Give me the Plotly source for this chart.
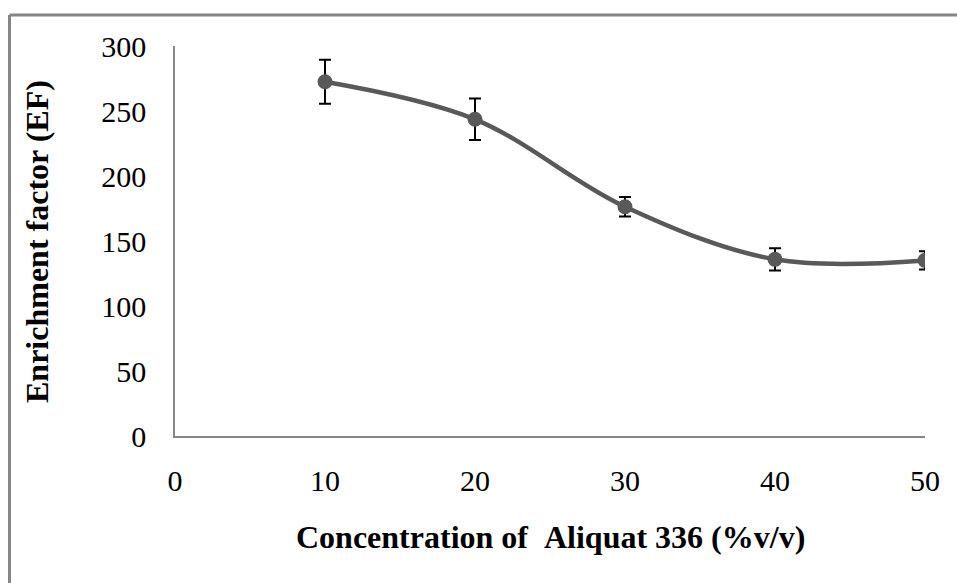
import plotly.graph_objects as go

# Aliquat 336 concentration (%v/v) vs. enrichment factor
concentration = [10, 20, 30, 40, 50]
enrichment = [272.5, 243.6, 176.4, 135.9, 135.1]
error = [17, 16, 7.5, 8.5, 7]

x_ticks = [0, 10, 20, 30, 40, 50]
y_ticks = [0, 50, 100, 150, 200, 250, 300]

FONT = "Liberation Serif"
GREY = "#595959"
AXIS = "#868686"

W, H = 957, 583
ML, MR, MT, MB = 175, 32, 46, 147
PW, PH = W - ML - MR, H - MT - MB


def px_x(p):
    return (p - ML) / PW


def px_y(p):
    return (H - MB - p) / PH


fig = go.Figure()
fig.add_trace(go.Scatter(
    x=concentration,
    y=enrichment,
    mode="lines+markers",
    line=dict(color=GREY, width=4.5, shape="spline", smoothing=1.0),
    marker=dict(color=GREY, size=15, symbol="circle"),
    error_y=dict(type="data", array=error, visible=True,
                 color="black", thickness=2, width=6),
    showlegend=False,
))

fig.update_layout(
    width=W, height=H,
    margin=dict(l=ML, r=MR, t=MT, b=MB, pad=0),
    paper_bgcolor="white",
    plot_bgcolor="white",
    font=dict(family=FONT, size=30, color="black"),
    xaxis=dict(
        range=[0, 50], tickvals=x_ticks, ticktext=[str(v) for v in x_ticks],
        showgrid=False, zeroline=False, showline=True,
        linecolor=AXIS, linewidth=1.5, ticks="", ticklabelstandoff=17,
        tickfont=dict(family=FONT, size=30, color="black"),
    ),
    yaxis=dict(
        range=[0, 300], tickvals=y_ticks, ticktext=[str(v) for v in y_ticks],
        showgrid=False, zeroline=False, showline=True,
        linecolor=AXIS, linewidth=1.5, ticks="", ticklabelstandoff=21,
        tickfont=dict(family=FONT, size=30, color="black"),
    ),
    annotations=[
        dict(text="<b>Concentration of\u00a0\u00a0Aliquat 336 (%v/v)</b>",
             xref="paper", yref="paper", x=px_x(550), y=px_y(537),
             xanchor="center", yanchor="middle", showarrow=False,
             font=dict(family=FONT, size=32, color="black")),
        dict(text="<b>Enrichment factor (EF)</b>",
             xref="paper", yref="paper", x=px_x(37), y=px_y(242),
             xanchor="center", yanchor="middle", showarrow=False, textangle=-90,
             font=dict(family=FONT, size=32, color="black")),
    ],
    shapes=[
        dict(type="line", xref="paper", yref="paper",
             x0=px_x(9.5), x1=px_x(W + 20), y0=px_y(15), y1=px_y(15),
             line=dict(color=AXIS, width=3)),
        dict(type="line", xref="paper", yref="paper",
             x0=px_x(9.5), x1=px_x(9.5), y0=px_y(15), y1=px_y(H + 20),
             line=dict(color=AXIS, width=3)),
    ],
)

fig.write_html("out.html")
